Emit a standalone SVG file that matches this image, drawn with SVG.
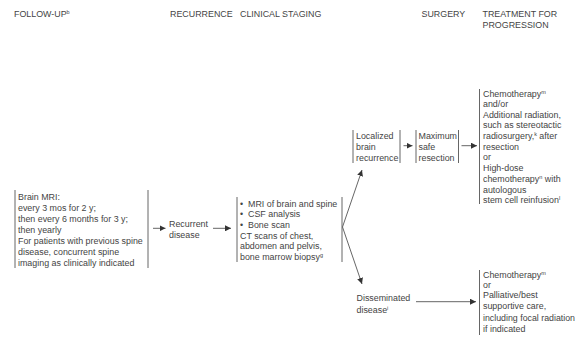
<svg xmlns="http://www.w3.org/2000/svg" width="576" height="337" viewBox="0 0 576 337">
<defs>
<style>
text{font-family:"Liberation Sans",Arial,sans-serif;font-size:8.9px;fill:#444}
.sup{font-size:5.5px}
.bar{stroke:#666;stroke-width:1;fill:none}
.conn{stroke:#555;stroke-width:0.9;fill:none;marker-end:url(#ah)}
</style>
<marker id="ah" viewBox="0 0 10 10" refX="10" refY="5" markerWidth="6" markerHeight="6" markerUnits="userSpaceOnUse" orient="auto">
<path d="M0,0 L10,5 L0,10 z" fill="#333"/>
</marker>
</defs>
<rect width="576" height="337" fill="#fff"/>
<g id="headers">
<text x="14" y="16.5">FOLLOW-UP<tspan class="sup" dy="-3">b</tspan></text>
<text x="170" y="16.5">RECURRENCE</text>
<text x="240" y="16.5">CLINICAL STAGING</text>
<text x="421.5" y="16.5">SURGERY</text>
<text x="482.5" y="16.5">TREATMENT FOR</text>
<text x="482.5" y="28">PROGRESSION</text>
</g>
<g id="followup">
<line class="bar" x1="15" y1="190" x2="15" y2="268"/>
<line class="bar" x1="148" y1="190" x2="148" y2="268"/>
<text x="18" y="199.5">Brain MRI:</text>
<text x="18" y="210.5">every 3 mos for 2 y;</text>
<text x="18" y="221.5">then every 6 months for 3 y;</text>
<text x="18" y="232.5">then yearly</text>
<text x="18" y="243.5">For patients with previous spine</text>
<text x="18" y="254.5">disease, concurrent spine</text>
<text x="18" y="265.5">imaging as clinically indicated</text>
</g>
<g id="recurrent">
<text x="169" y="227">Recurrent</text>
<text x="169" y="238">disease</text>
</g>
<g id="staging">
<line class="bar" x1="237" y1="197" x2="237" y2="262"/>
<line class="bar" x1="342" y1="197" x2="342" y2="262"/>
<text x="240" y="206.5">•</text><text x="248" y="206.5">MRI of brain and spine</text>
<text x="240" y="217">•</text><text x="248" y="217">CSF analysis</text>
<text x="240" y="228">•</text><text x="248" y="228">Bone scan</text>
<text x="240" y="238.5">CT scans of chest,</text>
<text x="240" y="249">abdomen and pelvis,</text>
<text x="240" y="260">bone marrow biopsy<tspan class="sup" dy="-3">g</tspan></text>
</g>
<g id="localized">
<line class="bar" x1="353" y1="130" x2="353" y2="163"/>
<line class="bar" x1="400" y1="130" x2="400" y2="163"/>
<text x="356" y="138.5">Localized</text>
<text x="356" y="150">brain</text>
<text x="356" y="161.3">recurrence</text>
</g>
<g id="resection">
<line class="bar" x1="416" y1="130" x2="416" y2="163"/>
<line class="bar" x1="458.5" y1="130" x2="458.5" y2="163"/>
<text x="418.5" y="138.5">Maximum</text>
<text x="418.5" y="150">safe</text>
<text x="418.5" y="161.3">resection</text>
</g>
<g id="treatment1">
<line class="bar" x1="479.5" y1="89" x2="479.5" y2="204"/>
<text x="483" y="96.5">Chemotherapy<tspan class="sup" dy="-3">m</tspan></text>
<text x="483" y="106.8">and/or</text>
<text x="483" y="117.5">Additional radiation,</text>
<text x="483" y="128.2">such as stereotactic</text>
<text x="483" y="139">radiosurgery,<tspan class="sup" dy="-3">k</tspan><tspan dy="3"> after</tspan></text>
<text x="483" y="150">resection</text>
<text x="483" y="160.3">or</text>
<text x="483" y="170.8">High-dose</text>
<text x="483" y="181.6">chemotherapy<tspan class="sup" dy="-3">n</tspan><tspan dy="3"> with</tspan></text>
<text x="483" y="192.5">autologous</text>
<text x="483" y="203.3">stem cell reinfusion<tspan class="sup" dy="-3">l</tspan></text>
</g>
<g id="disseminated">
<text x="356.5" y="300.5">Disseminated</text>
<text x="356.5" y="312.5">disease<tspan class="sup" dy="-3">i</tspan></text>
</g>
<g id="treatment2">
<line class="bar" x1="479.5" y1="270" x2="479.5" y2="335"/>
<text x="483" y="277.6">Chemotherapy<tspan class="sup" dy="-3">m</tspan></text>
<text x="483" y="287.6">or</text>
<text x="483" y="298.3">Palliative/best</text>
<text x="483" y="309.3">supportive care,</text>
<text x="483" y="320.6" textLength="92" lengthAdjust="spacingAndGlyphs">including focal radiation</text>
<text x="483" y="331.6">if indicated</text>
</g>
<g id="connectors">
<line class="conn" x1="153" y1="228.3" x2="165.5" y2="228.3"/>
<line class="conn" x1="213" y1="228.3" x2="231" y2="228.3"/>
<polyline class="conn" points="342.5,227 362,170"/>
<polyline class="conn" points="342.5,227 362,284"/>
<line class="conn" x1="403.5" y1="145.7" x2="412.5" y2="145.7"/>
<line class="conn" x1="461.5" y1="145.7" x2="477" y2="145.7"/>
<line class="conn" x1="416" y1="301.7" x2="476" y2="301.7"/>
</g>
</svg>
